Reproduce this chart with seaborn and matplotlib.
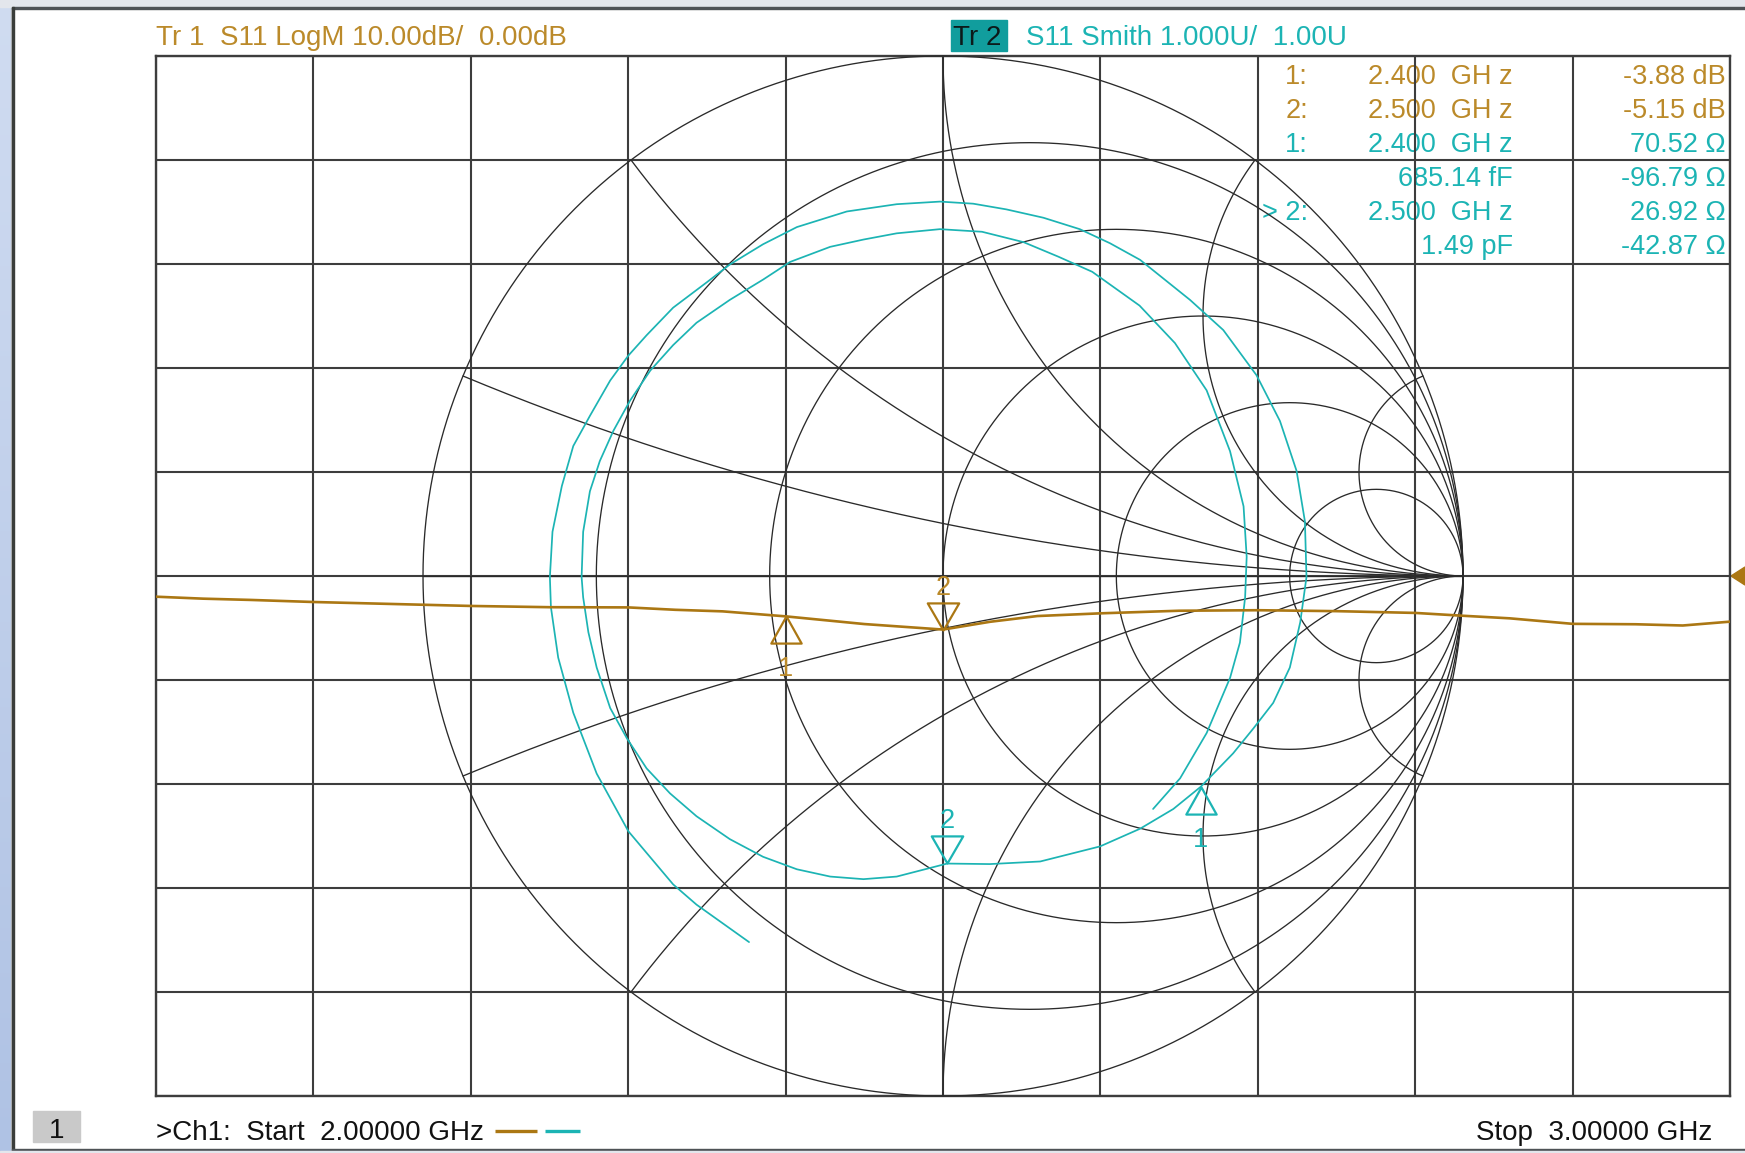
import numpy as np
import pandas as pd
import seaborn as sns
import matplotlib
matplotlib.use("Agg")
import matplotlib.pyplot as plt
from matplotlib.path import Path
from matplotlib.patches import Rectangle, Polygon
from matplotlib.colors import LinearSegmentedColormap

# ---------------- data ----------------
start_ghz, stop_ghz = 2.0, 3.0
logm_ref_db, logm_div_db = 0.0, 10.0

logm_freq_ghz = [2.00, 2.03, 2.06, 2.10, 2.15, 2.20, 2.25, 2.30, 2.33, 2.36, 2.40,
                 2.45, 2.50, 2.53, 2.56, 2.60, 2.65, 2.70, 2.75, 2.80, 2.83, 2.86,
                 2.90, 2.94, 2.97, 3.00]
logm_db = [-1.99, -2.18, -2.30, -2.50, -2.69, -2.88, -3.00, -3.02, -3.25, -3.40, -3.88,
           -4.62, -5.15, -4.40, -3.85, -3.59, -3.34, -3.29, -3.38, -3.55, -3.82, -4.07,
           -4.60, -4.64, -4.76, -4.39]

smith_re = [-0.373, -0.474, -0.519, -0.605, -0.666, -0.711, -0.740, -0.754, -0.756, -0.751,
            -0.733, -0.711, -0.679, -0.640, -0.605, -0.570, -0.519, -0.454, -0.410, -0.346,
            -0.281, -0.185, -0.089, -0.006, 0.058, 0.122, 0.193, 0.263, 0.321, 0.379,
            0.475, 0.539, 0.603,
            0.648, 0.680, 0.696, 0.699, 0.687, 0.667, 0.635, 0.597, 0.558, 0.496,
            0.443, 0.379, 0.302, 0.187, 0.090, 0.008, -0.089, -0.153, -0.217, -0.281,
            -0.346, -0.410, -0.474, -0.525, -0.570, -0.608, -0.640, -0.666, -0.682, -0.692,
            -0.695, -0.692, -0.679, -0.660, -0.634, -0.602, -0.563, -0.519, -0.474, -0.410,
            -0.346, -0.294, -0.217, -0.153, -0.089, -0.006, 0.075, 0.155, 0.222, 0.287,
            0.378, 0.446,
            0.507, 0.552, 0.578, 0.584, 0.581, 0.571, 0.552, 0.507, 0.456, 0.404]
smith_im = [-0.704, -0.632, -0.593, -0.491, -0.380, -0.263, -0.157, -0.060, -0.002, 0.085,
            0.173, 0.250, 0.308, 0.376, 0.424, 0.463, 0.516, 0.565, 0.599, 0.638,
            0.671, 0.701, 0.715, 0.720, 0.716, 0.705, 0.689, 0.667, 0.640, 0.608,
            0.531, 0.473, 0.386,
            0.298, 0.202, 0.105, -0.002, -0.089, -0.176, -0.244, -0.293, -0.341, -0.405,
            -0.448, -0.486, -0.520, -0.549, -0.554, -0.553, -0.578, -0.583, -0.578, -0.564,
            -0.540, -0.506, -0.462, -0.418, -0.370, -0.312, -0.254, -0.176, -0.108, -0.041,
            -0.002, 0.085, 0.163, 0.221, 0.279, 0.337, 0.395, 0.444, 0.487, 0.531,
            0.570, 0.604, 0.633, 0.647, 0.659, 0.667, 0.662, 0.642, 0.614, 0.585,
            0.520, 0.448,
            0.357, 0.240, 0.134, 0.037, -0.041, -0.128, -0.196, -0.302, -0.389, -0.448]

marker_ids = ["1", "2"]
marker_freq_ghz = [2.400, 2.500]
marker_db = [-3.88, -5.15]
marker_r_ohm = [70.52, 26.92]
marker_x_ohm = [-96.79, -42.87]
z0_ohm = 50.0

table_labels = ["1:", "2:", "1:", "", "> 2:", ""]
table_mid = ["2.400  GH z", "2.500  GH z", "2.400  GH z", "685.14 fF", "2.500  GH z", "1.49 pF"]
table_vals = ["-3.88 dB", "-5.15 dB", "70.52 \u03a9", "-96.79 \u03a9", "26.92 \u03a9", "-42.87 \u03a9"]
table_trace = [1, 1, 2, 2, 2, 2]

smith_r_circles = [0.0, 0.2, 0.5, 1.0, 2.0, 5.0]
smith_x_arcs = [0.2, 0.5, 1.0, 2.0, 5.0]

# ---------------- layout / style ----------------
W, H = 1745, 1153
GL, GR, GT, GB = 156, 1730, 56, 1096
SCX, SCY, SR = 943, 576, 520
BROWN = "#ab7713"
BROWN_T = "#bb8a2a"
CYAN = "#1cb4b4"
GRID_C = "#3d3d3d"
SMITH_C = "#2a2a2a"

sns.set_theme(style="white")
plt.rcParams["font.family"] = ["Liberation Sans", "DejaVu Sans"]

fig = plt.figure(figsize=(W / 100, H / 100), dpi=100)
fig.patch.set_facecolor("white")


def frac(x0, y0, x1, y1):
    return [x0 / W, 1 - y1 / H, (x1 - x0) / W, (y1 - y0) / H]


# background / window frame
bg = fig.add_axes([0, 0, 1, 1], zorder=0)
bg.axis("off")
grad = np.linspace(0, 1, 256).reshape(-1, 1)
cmap = LinearSegmentedColormap.from_list("b", ["#d0dcf1", "#afc2e4"])
bg.imshow(grad, cmap=cmap, extent=(0, 11, H, 0), aspect="auto")
bg.add_patch(Rectangle((11, 0), 2, H, color="#c3c6cc"))
bg.add_patch(Rectangle((0, 0), W, 7, color="#e3e6ec"))
bg.add_patch(Rectangle((12.5, 7), W, 2, color="#4e5256"))
bg.add_patch(Rectangle((12.5, 7), 2, 1143, color="#3a3d3a"))
bg.add_patch(Rectangle((12.5, 1148.5), W, 2, color="#4e5256"))
bg.add_patch(Rectangle((0, 1150.5), W, 3, color="#e3e6ec"))
bg.set_xlim(0, W)
bg.set_ylim(H, 0)

# header texts
bg.text(GL, 45, "Tr 1  S11 LogM 10.00dB/  0.00dB", color=BROWN_T, fontsize=20,
        ha="left", va="baseline")
bg.add_patch(Rectangle((951, 20), 56, 31, color="#119d9d"))
bg.text(953, 45, "Tr 2", color="#0c1a1a", fontsize=20, ha="left", va="baseline")
bg.text(1026, 45, "S11 Smith 1.000U/  1.00U", color=CYAN, fontsize=20,
        ha="left", va="baseline")

# marker table
for i, (lab, mid, val, tr) in enumerate(zip(table_labels, table_mid, table_vals, table_trace)):
    yb = 84 + 33.9 * i
    c = BROWN_T if tr == 1 else CYAN
    if lab:
        bg.text(1308, yb, lab, color=c, fontsize=19.5, ha="right", va="baseline")
    bg.text(1513, yb, mid, color=c, fontsize=19.5, ha="right", va="baseline")
    bg.text(1726, yb, val, color=c, fontsize=19.5, ha="right", va="baseline")

# footer
bg.add_patch(Rectangle((33, 1111), 47, 31, color="#c9c9c9"))
bg.text(56.5, 1138, "1", color="#111111", fontsize=20, ha="center", va="baseline")
bg.text(GL, 1140, ">Ch1:  Start  2.00000 GHz", color="#111111", fontsize=20,
        ha="left", va="baseline")
bg.plot([495, 537], [1131, 1131], color=BROWN, lw=2.4, solid_capstyle="butt")
bg.plot([545, 580], [1131, 1131], color=CYAN, lw=2.4, solid_capstyle="butt")
bg.text(1712, 1140, "Stop  3.00000 GHz", color="#111111", fontsize=20,
        ha="right", va="baseline")

# reference-level arrow on the right
bg.add_patch(Polygon([(1731, SCY), (1745, SCY - 9), (1745, SCY + 9)], closed=True,
                     color=BROWN))

# ---------------- rectangular grid ----------------
ax = fig.add_axes(frac(GL, GT, GR, GB), zorder=1)
ax.set_facecolor("none")
ax.set_xlim(start_ghz, stop_ghz)
ax.set_ylim(logm_ref_db - 5 * logm_div_db, logm_ref_db + 5 * logm_div_db)
ax.set_xticks(np.linspace(start_ghz, stop_ghz, 11))
ax.set_yticks(np.arange(-50, 51, 10))
ax.tick_params(length=0, labelbottom=False, labelleft=False)
ax.grid(True, color=GRID_C, lw=1.5)
for s in ax.spines.values():
    s.set_visible(True)
    s.set_color(GRID_C)
    s.set_linewidth(1.7)

# ---------------- Smith chart ----------------
axs = fig.add_axes(frac(SCX - SR, SCY - SR, SCX + SR, SCY + SR), zorder=2)
axs.set_facecolor("none")
t = np.linspace(0, 2 * np.pi, 1441)
for r in smith_r_circles:
    c0, rad = r / (1 + r), 1 / (1 + r)
    axs.plot(c0 + rad * np.cos(t), rad * np.sin(t), color=SMITH_C, lw=0.95, clip_on=False)
rr = np.concatenate([[0.0], np.logspace(-3, 4, 1500)])
for xv in smith_x_arcs:
    for sgn in (1, -1):
        z = rr + 1j * sgn * xv
        g = (z - 1) / (z + 1)
        axs.plot(g.real, g.imag, color=SMITH_C, lw=0.95, clip_on=False)
axs.plot([-1, 1], [0, 0], color=SMITH_C, lw=0.95, clip_on=False)

smith_df = pd.DataFrame({"re": smith_re, "im": smith_im})
sns.lineplot(data=smith_df, x="re", y="im", sort=False, estimator=None, ax=axs,
             color=CYAN, lw=1.25)
axs.lines[-1].set_solid_joinstyle("round")
axs.set_xlim(-1, 1)
axs.set_ylim(-1, 1)
axs.axis("off")

# marker shapes: tip at the data point
UP = Path([(0, 0), (-0.56, -1), (0.56, -1), (0, 0)],
          [Path.MOVETO, Path.LINETO, Path.LINETO, Path.CLOSEPOLY])
DOWN = Path([(0, 0), (-0.58, 1), (0.58, 1), (0, 0)],
            [Path.MOVETO, Path.LINETO, Path.LINETO, Path.CLOSEPOLY])
MS = 39
shapes = [UP, DOWN]
label_off = [-60, 35]

zm = (np.array(marker_r_ohm) + 1j * np.array(marker_x_ohm))
gm = (zm - z0_ohm) / (zm + z0_ohm)
for k in range(2):
    axs.plot([gm[k].real], [gm[k].imag], ls="none", marker=shapes[k], ms=MS, mfc="none",
             mec=CYAN, mew=1.6, clip_on=False)
    axs.annotate(marker_ids[k], (gm[k].real, gm[k].imag), xytext=(0, label_off[k]),
                 textcoords="offset pixels", ha="center", va="baseline",
                 color=CYAN, fontsize=19.5)

# ---------------- LogM trace ----------------
axl = fig.add_axes(frac(GL, GT, GR, GB), zorder=3)
axl.set_facecolor("none")
sns.lineplot(x=logm_freq_ghz, y=logm_db, ax=axl, color=BROWN, lw=1.9)
axl.set_xlim(start_ghz, stop_ghz)
axl.set_ylim(logm_ref_db - 5 * logm_div_db, logm_ref_db + 5 * logm_div_db)
axl.axis("off")
for k in range(2):
    axl.plot([marker_freq_ghz[k]], [marker_db[k]], ls="none", marker=shapes[k], ms=MS,
             mfc="none", mec=BROWN, mew=1.6, clip_on=False)
    axl.annotate(marker_ids[k], (marker_freq_ghz[k], marker_db[k]),
                 xytext=(0, label_off[k]), textcoords="offset pixels",
                 ha="center", va="baseline", color=BROWN_T, fontsize=19.5)

fig.savefig("out.png", dpi=100, facecolor="white")
